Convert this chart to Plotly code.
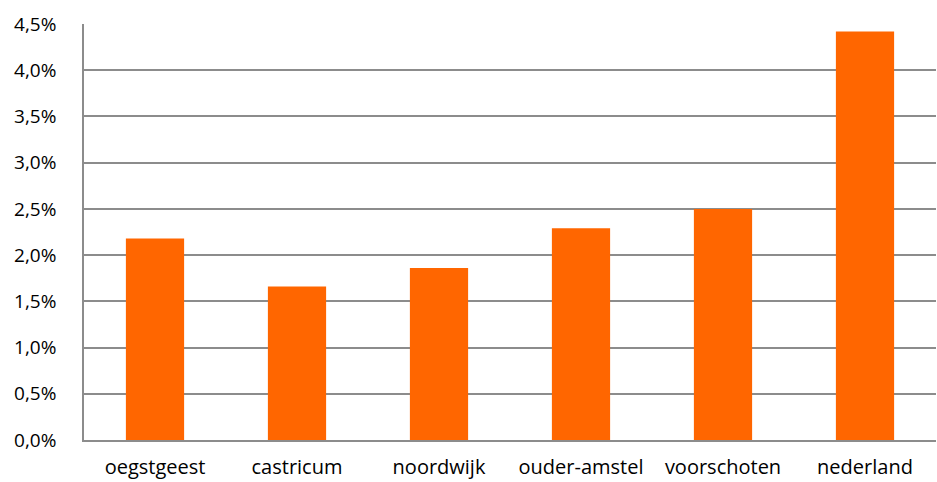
import plotly.graph_objects as go

categories = ["oegstgeest", "castricum", "noordwijk", "ouder-amstel", "voorschoten", "nederland"]
values = [0.0218, 0.0166, 0.0186, 0.0229, 0.0250, 0.0442]
tick_vals = [0, 0.005, 0.01, 0.015, 0.02, 0.025, 0.03, 0.035, 0.04, 0.045]

fig = go.Figure(go.Bar(x=categories, y=values, marker=dict(color="#FF6600", line=dict(width=0)), width=0.41))

fig.update_layout(
    width=937, height=482,
    margin=dict(l=84, r=1, t=24, b=42, autoexpand=False),
    paper_bgcolor="white", plot_bgcolor="white",
    separators=",.",
    font=dict(family="Open Sans", size=20, color="#000000"),
    showlegend=False,
    bargap=0.59,
)
fig.update_yaxes(range=[0, 0.045], tickvals=tick_vals, tickformat=".1%",
                 showgrid=True, gridcolor="#8C8C8C", gridwidth=1.5,
                 showline=True, linecolor="#8C8C8C", linewidth=1.5,
                 ticks="", zeroline=False, tickfont=dict(size=19),
                 ticklabelstandoff=22)
fig.update_xaxes(showline=True, linecolor="#8C8C8C", linewidth=1.5, ticks="",
                 tickfont=dict(size=20), ticklabelstandoff=8)

fig.write_html("out.html", config={"displayModeBar": False},
               post_script="document.body.style.margin='0';")
